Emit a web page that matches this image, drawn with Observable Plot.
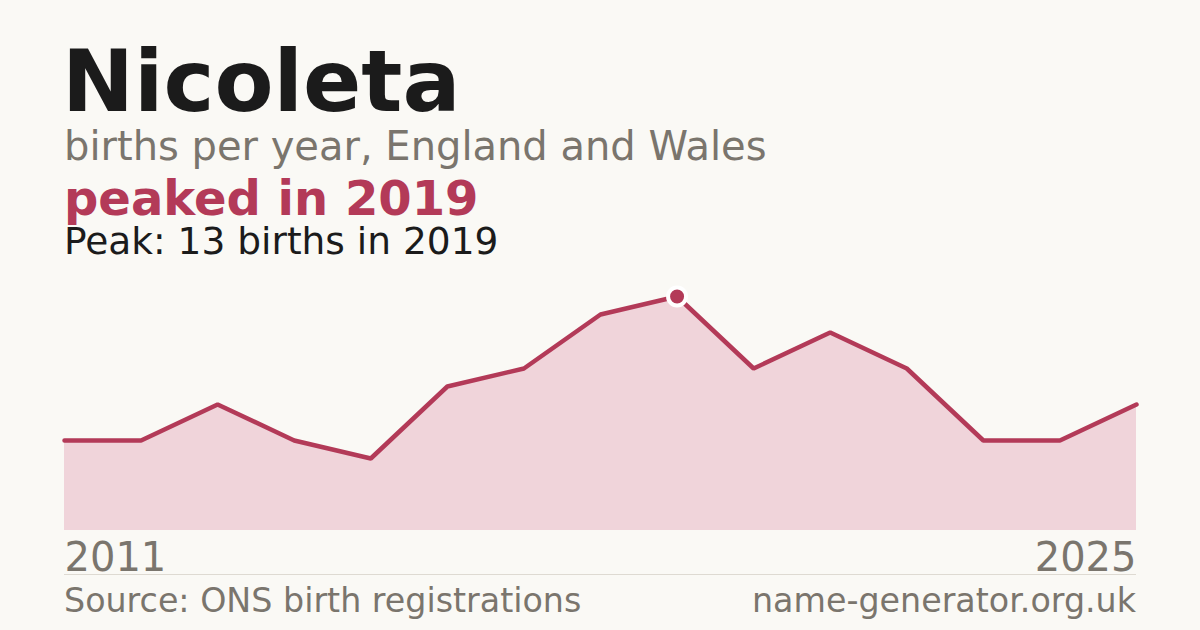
<!DOCTYPE html>
<html>
<head>
<meta charset="utf-8">
<script src="https://cdn.jsdelivr.net/npm/d3@7"></script>
<script src="https://cdn.jsdelivr.net/npm/@observablehq/plot@0.6"></script>
<style>
  html, body { margin: 0; padding: 0; background: #faf9f5; }
  #wrap { position: relative; width: 1200px; height: 630px; overflow: hidden; font-family: "DejaVu Sans", sans-serif; background: #faf9f5; }
  .t { position: absolute; white-space: nowrap; line-height: 0.7; }
  #chart { position: absolute; left: 0; top: 280px; }
</style>
</head>
<body>
<div id="wrap">
  <div class="t" id="title" style="left:62px; top:51px; font-size:86px; font-weight:bold; color:#1b1b1b;">Nicoleta</div>
  <div class="t" id="sub" style="left:64px; top:132px; font-size:40px; color:#7a756d;">births per year, England and Wales</div>
  <div class="t" id="peaked" style="left:64px; top:182px; font-size:48px; font-weight:bold; color:#b33a58;">peaked in 2019</div>
  <div class="t" id="peak" style="left:64px; top:228px; font-size:37.5px; color:#1b1b1b;">Peak: 13 births in 2019</div>
  <div id="chart"></div>
  <div style="position:absolute; left:64px; top:574px; width:1072px; height:1px; background:#dedad2;"></div>
  <div class="t" id="src" style="left:64px; top:589px; font-size:33.3px; color:#7a756d;">Source: ONS birth registrations</div>
  <div class="t" id="site" style="right:64px; top:589px; font-size:33.3px; color:#7a756d; text-align:right;">name-generator.org.uk</div>
</div>
<script>
const years = [2011, 2012, 2013, 2014, 2015, 2016, 2017, 2018, 2019, 2020, 2021, 2022, 2023, 2024, 2025];
const births = [5, 5, 7, 5, 4, 8, 9, 12, 13, 9, 11, 9, 5, 5, 7];
const peakYear = [2019];
const peakValue = [13];
const firstLabel = ["2011"];
const lastLabel = ["2025"];

const data = years.map((y, i) => ({year: y, births: births[i]}));
const peak = peakYear.map((y, i) => ({year: y, births: peakValue[i]}));

const crimson = "#b33a58";
const grey = "#7a756d";

const chart = Plot.plot({
  width: 1200,
  height: 300,
  marginLeft: 64,
  marginRight: 64,
  marginTop: 16,
  marginBottom: 50,
  style: { background: "transparent", fontFamily: "DejaVu Sans, sans-serif", overflow: "visible" },
  x: { domain: [years[0], years[years.length - 1]], axis: null },
  y: { domain: [0, d3.max(births)], axis: null },
  marks: [
    Plot.areaY(data, { x: "year", y: "births", fill: "#f0d4da", curve: "linear" }),
    Plot.lineY(data, { x: "year", y: "births", stroke: crimson, strokeWidth: 4.5, curve: "linear", strokeLinejoin: "miter" }),
    Plot.dot(peak, { x: "year", y: "births", r: 9, fill: crimson, stroke: "#ffffff", strokeWidth: 4 }),
    Plot.text(firstLabel, { x: () => years[0], y: () => 0, text: d => d, textAnchor: "start", lineAnchor: "top", dy: 12, fontSize: 40, fill: grey }),
    Plot.text(lastLabel, { x: () => years[years.length - 1], y: () => 0, text: d => d, textAnchor: "end", lineAnchor: "top", dy: 12, fontSize: 40, fill: grey })
  ]
});
document.getElementById("chart").appendChild(chart);
</script>
</body>
</html>
